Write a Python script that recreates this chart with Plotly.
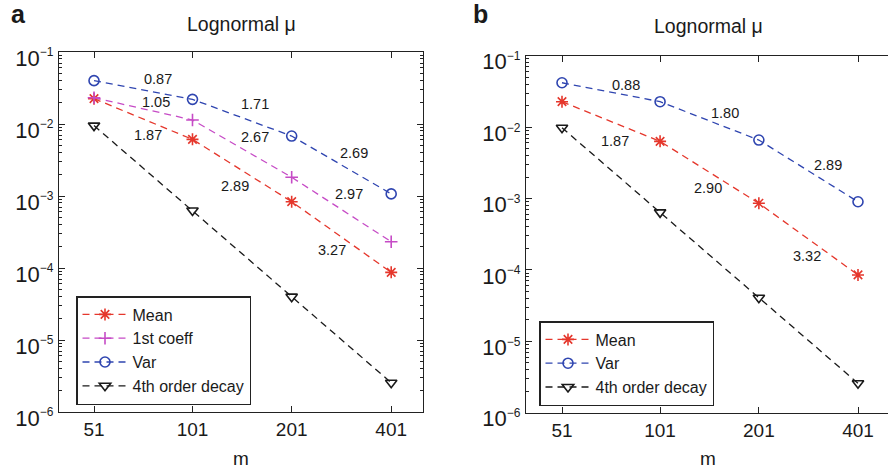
import numpy as np
import plotly.graph_objects as go

# ---------------- data ----------------
m_vals = [51, 101, 201, 401]
x_ticks = [51, 101, 201, 401]
x_ticktext = ["51", "101", "201", "401"]
y_ticks_exp = [-6, -5, -4, -3, -2, -1]

# Panel a
a_mean = [0.0225, 0.00612, 0.000834, 0.000087]
a_coeff = [0.0232, 0.01137, 0.00182, 0.000232]
a_var = [0.0400, 0.0220, 0.0068, 0.00107]
a_decay = [0.0095, 0.00063, 0.000040, 0.00000255]

# Panel b
b_mean = [0.0227, 0.00632, 0.000857, 0.000085]
b_var = [0.0418, 0.0227, 0.00659, 0.00090]
b_decay = [0.0098, 0.00064, 0.0000408, 0.00000258]

# rate labels: (text, m position, value position)
a_rate_text = ["0.87", "1.05", "1.71", "1.87", "2.67", "2.69", "2.89", "2.97", "3.27"]
a_rate_m = [79.5, 78.4, 155.8, 74.2, 155.8, 309.7, 135.7, 299.2, 265.4]
a_rate_v = [0.0422, 0.0204, 0.01878, 0.00703, 0.00653, 0.00392, 0.00139, 0.001066, 0.000178]

b_rate_text = ["0.88", "1.80", "1.87", "2.89", "2.90", "3.32"]
b_rate_m = [79.7, 158.7, 73.8, 326.1, 141.3, 280.5]
b_rate_v = [0.0385, 0.0156, 0.00645, 0.00294, 0.00139, 0.000157]

# ---------------- style ----------------
FONT = "Liberation Sans, Arial, Helvetica, sans-serif"
RED = "#e5372c"
MAG = "#c64bc6"
BLUE = "#2f45b0"
BLACK = "#1a1a1a"
AXC = "#222222"
DASH = "7px,5px"
W, H = 888, 470

fig = go.Figure()


def add_series(x, y, name, color, symbol, xa, ya, legend, size=10):
    fig.add_trace(go.Scatter(
        x=x, y=y, name=name, mode="lines+markers",
        line=dict(color=color, width=1.3, dash=DASH),
        marker=dict(symbol=symbol, size=size, color=color,
                    line=dict(color=color, width=1.6)),
        xaxis=xa, yaxis=ya, legend=legend,
    ))


add_series(m_vals, a_mean, "Mean", RED, "asterisk-open", "x", "y", "legend")
add_series(m_vals, a_coeff, "1st coeff", MAG, "cross-thin-open", "x", "y", "legend", size=9)
add_series(m_vals, a_var, "Var", BLUE, "circle-open", "x", "y", "legend")
add_series(m_vals, a_decay, "4th order decay", BLACK, "triangle-down-open", "x", "y", "legend")

add_series(m_vals, b_mean, "Mean", RED, "asterisk-open", "x2", "y2", "legend2")
add_series(m_vals, b_var, "Var", BLUE, "circle-open", "x2", "y2", "legend2")
add_series(m_vals, b_decay, "4th order decay", BLACK, "triangle-down-open", "x2", "y2", "legend2")

y_tickvals = [10.0 ** e for e in y_ticks_exp]
y_ticktext = ["10<sup><span style='font-size:12px'>\u2212%d</span></sup>" % (-e) for e in y_ticks_exp]
minor_vals = [k * 10.0 ** e for e in range(-6, -1) for k in range(2, 10)]

common_x = dict(
    type="log", tickmode="array", tickvals=x_ticks, ticktext=x_ticktext,
    ticks="inside", ticklen=6, tickwidth=1, tickcolor=AXC,
    showline=True, linecolor=AXC, linewidth=1.2, mirror="ticks",
    showgrid=False, zeroline=False, automargin=False,
    tickfont=dict(family=FONT, size=19, color=BLACK),
)
common_y = dict(
    type="log", range=[-6, -1], tickmode="array", tickvals=y_tickvals, ticktext=y_ticktext,
    ticks="inside", ticklen=6, tickwidth=1, tickcolor=AXC,
    showline=True, linecolor=AXC, linewidth=1.2, mirror="ticks",
    showgrid=False, zeroline=False, automargin=False, ticklabelshift=6,
    tickfont=dict(family=FONT, size=22, color=BLACK),
    minor=dict(tickmode="array", tickvals=minor_vals, ticks="inside", ticklen=3,
               tickcolor=AXC, showgrid=False),
)

xa = dict(common_x, domain=[59 / W, 423 / W], range=[np.log10(40), np.log10(500)], anchor="y")
xb = dict(common_x, domain=[526 / W, 1.0], range=[1.59864, 2.69391], anchor="y2")
ya = dict(common_y, domain=[(H - 412) / H, (H - 52) / H], anchor="x")
yb = dict(common_y, domain=[(H - 412.7) / H, (H - 55.7) / H], anchor="x2")
yb["mirror"] = False

annotations = []
for t, mx, v in zip(a_rate_text, a_rate_m, a_rate_v):
    annotations.append(dict(x=np.log10(mx), y=np.log10(v), xref="x", yref="y", text=t,
                            showarrow=False, font=dict(family=FONT, size=14.5, color=BLACK)))
for t, mx, v in zip(b_rate_text, b_rate_m, b_rate_v):
    annotations.append(dict(x=np.log10(mx), y=np.log10(v), xref="x2", yref="y2", text=t,
                            showarrow=False, font=dict(family=FONT, size=14.5, color=BLACK)))


def paper_text(px, py, text, size, bold=False):
    return dict(x=px / W, y=(H - py) / H, xref="paper", yref="paper",
                xanchor="center", yanchor="middle", showarrow=False,
                text=("<b>%s</b>" % text) if bold else text,
                font=dict(family=FONT, size=size, color=BLACK))


annotations.append(paper_text(241, 24, "Lognormal \u03bc", 19.5))
annotations.append(paper_text(708, 26, "Lognormal \u03bc", 19.5))
annotations.append(paper_text(241, 458, "m", 19))
annotations.append(paper_text(708, 458, "m", 19))
annotations.append(paper_text(18, 14, "a", 25, bold=True))
annotations.append(paper_text(481, 14, "b", 25, bold=True))

legend_style = dict(bgcolor="white", bordercolor=AXC, borderwidth=1.5,
                    font=dict(family=FONT, size=16, color=BLACK),
                    xanchor="left", yanchor="top", tracegroupgap=0, itemwidth=45)

fig.update_layout(
    width=W, height=H, autosize=False,
    margin=dict(l=0, r=0, t=0, b=0, autoexpand=False),
    paper_bgcolor="white", plot_bgcolor="white",
    xaxis=xa, yaxis=ya, xaxis2=xb, yaxis2=yb,
    annotations=annotations,
    legend=dict(legend_style, x=76 / W, y=(H - 296) / H),
    legend2=dict(legend_style, x=539 / W, y=(H - 321) / H),
    showlegend=True,
)

fig.write_html("out.html")
